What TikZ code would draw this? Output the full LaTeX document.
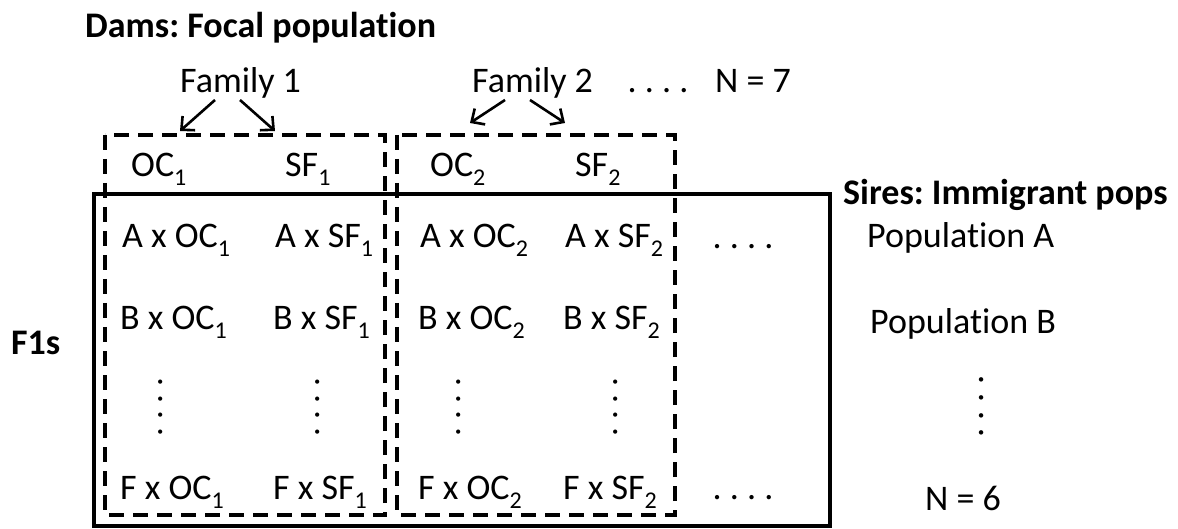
\documentclass[tikz,border=0pt]{standalone}
\usepackage{fontspec}
\setmainfont{Carlito}[Ligatures={NoCommon,NoRequired,NoContextual},Contextuals=NoAlternate,RawFeature={-liga;-clig;-calt;-dlig}]
\usetikzlibrary{arrows.meta}
\frenchspacing
% lowered, smaller index as in OC_1
\newcommand\idx[1]{\raisebox{-9pt}{\fontsize{24}{24}\selectfont #1}}
\tikzset{
  lbl/.style={anchor=base west, inner sep=0pt, font=\fontsize{36}{43}\selectfont},
  head/.style={lbl, font=\fontsize{36}{43}\selectfont\bfseries},
  vdots/.style={anchor=center, inner sep=0pt, rotate=90, font=\fontsize{35}{42}\selectfont},
  famarrow/.style={-{Straight Barb[length=10pt,width=19pt]}, line width=2.6pt},
  famline/.style={dash pattern=on 15pt off 9pt, line width=3.5pt},
  popbox/.style={line width=3.5pt}
}
\begin{document}
\begin{tikzpicture}[x=1pt,y=-1pt]
\useasboundingbox (0,0) rectangle (1178,529);

% headings
\node[head] (dams)  at (85,38)   {Dams: Focal population};
\node[head] (sires) at (843,205) {Sires: Immigrant pops};
\node[head] (f1s)   at (11,355)  {F1s};

% families of dams
\node[lbl] (fam1) at (180,93) {Family 1};
\node[lbl] (fam2) at (472,93) {Family 2};
\node[lbl] (hdots) at (627.5,93) {. . . .};
\node[lbl] (n7) at (715,93) {N = 7};

\coordinate (f1a) at (215,100);  \coordinate (f1at) at (180,131);
\coordinate (f1b) at (240,100);  \coordinate (f1bt) at (275,131);
\coordinate (f2a) at (505,100);  \coordinate (f2at) at (470,123);
\coordinate (f2b) at (530,100);  \coordinate (f2bt) at (565,123);
\draw[famarrow] (f1a) -- (f1at);
\draw[famarrow] (f1b) -- (f1bt);
\draw[famarrow] (f2a) -- (f2at);
\draw[famarrow] (f2b) -- (f2bt);

% family boxes and the block of crosses
\draw[famline] (105,135) rectangle (385,515);
\draw[famline] (397,135) rectangle (675,515);
\draw[popbox] (94,194) rectangle (830,526);

% dam labels
\node[lbl] (oc1) at (131,177) {OC\idx{1}};
\node[lbl] (sf1) at (285,177) {SF\idx{1}};
\node[lbl] (oc2) at (430,177) {OC\idx{2}};
\node[lbl] (sf2) at (575,177) {SF\idx{2}};

% crosses, population A
\node[lbl] (aoc1) at (122,248) {A x OC\idx{1}};
\node[lbl] (asf1) at (275,248) {A x SF\idx{1}};
\node[lbl] (aoc2) at (420,248) {A x OC\idx{2}};
\node[lbl] (asf2) at (565,248) {A x SF\idx{2}};
\node[lbl] (adots) at (712.5,249) {. . . .};

% crosses, population B
\node[lbl] (boc1) at (120,330) {B x OC\idx{1}};
\node[lbl] (bsf1) at (273,330) {B x SF\idx{1}};
\node[lbl] (boc2) at (418,330) {B x OC\idx{2}};
\node[lbl] (bsf2) at (563,330) {B x SF\idx{2}};

% vertical ellipses
\node[vdots] (v1) at (161,407) {. . . .};
\node[vdots] (v2) at (318,407) {. . . .};
\node[vdots] (v3) at (459,407) {. . . .};
\node[vdots] (v4) at (616,407) {. . . .};

% crosses, population F
\node[lbl] (foc1) at (120,499) {F x OC\idx{1}};
\node[lbl] (fsf1) at (273,499) {F x SF\idx{1}};
\node[lbl] (foc2) at (418,499) {F x OC\idx{2}};
\node[lbl] (fsf2) at (563,499) {F x SF\idx{2}};
\node[lbl] (fdots) at (712.5,499) {. . . .};

% sire populations
\node[lbl] (popa) at (867,248) {Population A};
\node[lbl] (popb) at (870,334) {Population B};
\node[vdots, font=\fontsize{37}{44}\selectfont] (vr) at (982,406.5) {. . . .};
\node[lbl] (n6) at (925,510) {N = 6};
\end{tikzpicture}
\end{document}
